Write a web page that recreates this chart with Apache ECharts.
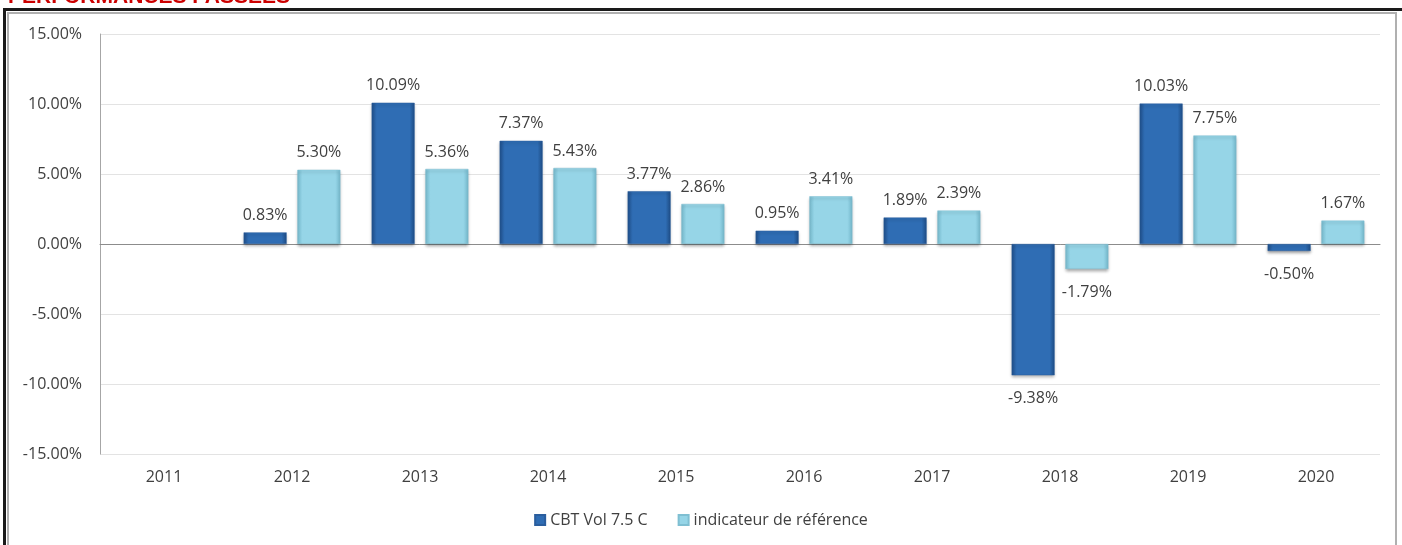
<!DOCTYPE html>
<html>
<head>
<meta charset="utf-8">
<script src="https://cdn.jsdelivr.net/npm/echarts@6/dist/echarts.min.js"></script>
<style>
html,body{margin:0;padding:0;background:#fff;}
#chart{width:1402px;height:545px;}
</style>
</head>
<body>
<div id="chart"></div>
<script>
const categories = ['2011','2012','2013','2014','2015','2016','2017','2018','2019','2020'];
const fundName = 'CBT Vol 7.5 C';
const benchName = 'indicateur de référence';
const fundValues = [null, 0.83, 10.09, 7.37, 3.77, 0.95, 1.89, -9.38, 10.03, -0.50];
const benchValues = [null, 5.30, 5.36, 5.43, 2.86, 3.41, 2.39, -1.79, 7.75, 1.67];
const yTicks = [-15, -10, -5, 0, 5, 10, 15];
const titleText = 'PERFORMANCES PASSÉES';

const chart = echarts.init(document.getElementById('chart'));
const font = '"Open Sans", sans-serif';
const txt = '#404040';

function hGrad(edge, mid) {
  return new echarts.graphic.LinearGradient(0, 0, 1, 0, [
    {offset: 0, color: edge},
    {offset: 0.12, color: mid},
    {offset: 0.88, color: mid},
    {offset: 1, color: edge}
  ]);
}

const labelFmt = p => (p.value == null ? '' : p.value.toFixed(2) + '%');

function labeled(vals) {
  return vals.map(v => v == null ? null : {
    value: v,
    label: {position: v >= 0 ? 'top' : 'bottom', distance: v >= 0 ? 9 : 15}
  });
}

const darkColor = hGrad('#1f4f8a', '#2f6db4');
const lightColor = hGrad('#78bcd0', '#96d5e7');

chart.setOption({
  backgroundColor: '#fff',
  animation: false,
  graphic: [
    {type: 'text', left: 8, top: -13, style: {text: titleText, fill: '#cc0000', font: 'bold 21px "Liberation Sans", Arial, sans-serif'}},
    {type: 'rect', shape: {x: 4.5, y: 9.5, width: 1410, height: 560}, style: {fill: 'none', stroke: '#1a1a1a', lineWidth: 3}},
    {type: 'rect', shape: {x: 8, y: 13, width: 1388, height: 540}, style: {fill: 'none', stroke: '#b0b0b0', lineWidth: 2}}
  ],
  grid: {left: 100, right: 22, top: 34, bottom: 91, containLabel: false},
  legend: {
    bottom: 12,
    left: 'center',
    itemWidth: 10,
    itemHeight: 10,
    itemGap: 30,
    icon: 'rect',
    textStyle: {fontFamily: font, fontSize: 16, color: txt},
    data: [fundName, benchName]
  },
  xAxis: [
    {
      type: 'category',
      data: categories,
      position: 'bottom',
      axisLine: {show: false, onZero: false},
      axisTick: {show: false},
      axisLabel: {fontFamily: font, fontSize: 16, color: txt, margin: 15},
      splitLine: {show: false}
    },
    {
      type: 'category',
      data: categories,
      position: 'bottom',
      axisLine: {show: true, onZero: true, lineStyle: {color: '#8c8c8c', width: 1}},
      axisTick: {show: false},
      axisLabel: {show: false},
      splitLine: {show: false}
    }
  ],
  yAxis: {
    type: 'value',
    min: yTicks[0],
    max: yTicks[yTicks.length - 1],
    interval: 5,
    axisLine: {show: true, lineStyle: {color: '#a6a6a6'}},
    axisTick: {show: false},
    axisLabel: {fontFamily: font, fontSize: 16, color: txt, margin: 18, formatter: v => v.toFixed(2) + '%'},
    splitLine: {show: true, lineStyle: {color: '#e3e3e3', width: 1}}
  },
  series: [
    {
      name: fundName,
      type: 'bar',
      xAxisIndex: 0,
      data: labeled(fundValues),
      barWidth: 43,
      barGap: '25%',
      itemStyle: {color: darkColor, borderColor: '#2a5e9e', borderWidth: 0.5, shadowColor: 'rgba(0,0,0,0.35)', shadowBlur: 3, shadowOffsetY: 2},
      label: {show: true, fontFamily: font, fontSize: 16, color: txt, formatter: labelFmt}
    },
    {
      name: benchName,
      type: 'bar',
      xAxisIndex: 0,
      data: labeled(benchValues),
      barWidth: 43,
      barGap: '25%',
      itemStyle: {color: lightColor, borderColor: '#7fbfd2', borderWidth: 0.5, shadowColor: 'rgba(0,0,0,0.35)', shadowBlur: 3, shadowOffsetY: 2},
      label: {show: true, fontFamily: font, fontSize: 16, color: txt, formatter: labelFmt}
    }
  ]
});
</script>
</body>
</html>
